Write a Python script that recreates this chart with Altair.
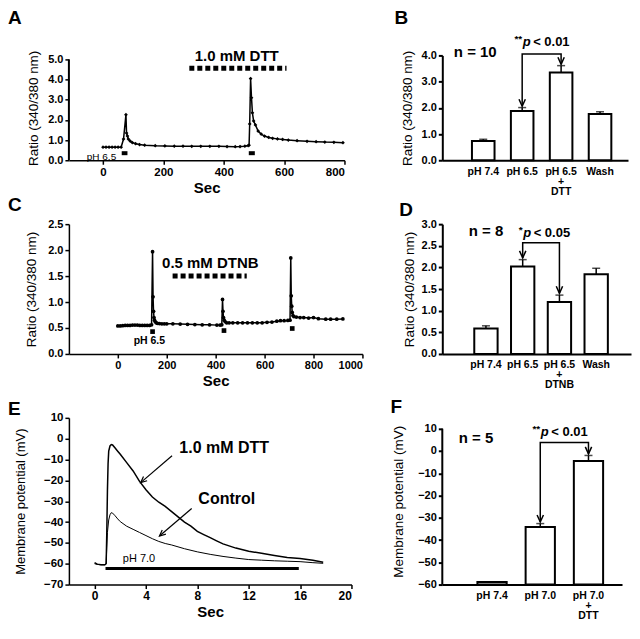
import altair as alt
import pandas as pd

FONT = "Liberation Sans"
K = "black"
ARROW = "M-0.45,-1L0,0L0.45,-1"

# ---------------- Panel A data ----------------
a_t = [0, 10, 20, 30, 40, 50, 60, 68, 76, 78, 81, 84, 90, 97, 108, 121, 138,
       173, 205, 236, 265, 294, 324, 354, 384, 411, 438, 454, 470,
       481, 484, 486, 489, 492, 495, 499, 505, 514, 524, 535, 549, 562, 578, 595,
       614, 643, 676, 706, 735, 765, 795]
a_v = [0.65, 0.65, 0.65, 0.65, 0.65, 0.65, 0.65, 1.05, 2.26, 1.35, 1.2, 1.05, 0.95, 0.88, 0.82, 0.78, 0.75,
       0.72, 0.71, 0.70, 0.70, 0.69, 0.69, 0.69, 0.69, 0.68, 0.67, 0.68, 0.70,
       0.73, 0.75, 1.8, 4.05, 3.1, 2.35, 1.95, 1.75, 1.45, 1.3, 1.2, 1.13, 1.09, 1.06, 1.03,
       1.0, 0.97, 0.94, 0.92, 0.9, 0.89, 0.87]
a_drug = {"x0": [286], "x1": [608], "y": [4.56]}
a_stim = {"x0": [62, 483], "x1": [81, 503], "y": [0.35, 0.35]}

# ---------------- Panel B data ----------------
b_cats = ["pH 7.4", "pH 6.5", "pH 6.5\n+\nDTT", "Wash"]
b_mean = [0.73, 1.88, 3.35, 1.76]
b_hi = [0.80, 2.01, 3.61, 1.85]
b_br_c = ["pH 6.5", "pH 6.5", "pH 6.5\n+\nDTT", "pH 6.5\n+\nDTT"]
b_br_y = [2.06, 4.05, 4.05, 3.66]

# ---------------- Panel C data ----------------
c_t = [0, 10, 20, 30, 40, 50, 60, 70, 80, 90, 100, 110, 120, 130,
       138, 142, 144, 146, 148, 150, 153, 157, 162, 170, 180, 190, 200,
       225, 255, 285, 315, 345, 375, 405, 418, 425,
       428, 430, 432, 435, 439, 445, 455, 470, 490, 510, 530, 550, 570, 590, 610, 630, 650, 665, 680, 695, 704,
       707, 709, 711, 713, 716, 720, 730, 745, 760, 780, 800, 820, 850, 870, 895, 920]
c_v = [0.54, 0.54, 0.545, 0.55, 0.55, 0.55, 0.555, 0.555, 0.555, 0.55, 0.55, 0.55, 0.55, 0.55,
       0.56, 1.97, 1.1, 0.82, 0.7, 0.65, 0.62, 0.6, 0.59, 0.585, 0.58, 0.58, 0.58,
       0.58, 0.575, 0.57, 0.565, 0.56, 0.56, 0.555, 0.555, 0.56,
       1.05, 0.82, 0.7, 0.65, 0.62, 0.6, 0.6, 0.6, 0.6, 0.6, 0.6, 0.6, 0.6, 0.6, 0.61, 0.615, 0.63, 0.64, 0.64, 0.645, 0.65,
       1.85, 1.12, 0.92, 0.8, 0.74, 0.72, 0.71, 0.7, 0.7, 0.69, 0.7, 0.68, 0.67, 0.67, 0.67, 0.675]
c_drug = {"x0": [224], "x1": [527], "y": [1.5]}
c_stim_t = [142, 434, 713]
c_stim_v = [0.43, 0.45, 0.49]

# ---------------- Panel D data ----------------
d_cats = ["pH 7.4", "pH 6.5", "pH 6.5\n+\nDTNB", "Wash"]
d_mean = [0.59, 2.02, 1.2, 1.84]
d_hi = [0.65, 2.18, 1.36, 1.98]
d_br_c = ["pH 6.5", "pH 6.5", "pH 6.5\n+\nDTNB", "pH 6.5\n+\nDTNB"]
d_br_y = [2.22, 2.57, 2.57, 1.4]

# ---------------- Panel E data ----------------
e_t_dtt = [0, 0.2, 0.5, 0.8, 0.9, 0.95, 1.0, 1.05, 1.1, 1.2, 1.3, 1.4, 1.6, 1.8, 2.0,
           2.5, 3.0, 3.5, 4.0, 4.5, 5.0, 5.5, 6.0, 6.5, 7.0, 7.5, 8.0, 8.5, 9.0, 9.5, 10,
           11, 12, 13, 14, 15, 16, 17, 17.8]
e_v_dtt = [-59.5, -60.2, -60.5, -60.5, -60, -45, -25, -12, -6, -3.5, -2.8, -3, -4.5, -6, -7.5,
           -11.5, -15.5, -20.5, -24.5, -28, -30.5, -32.5, -35, -37.5, -40, -42, -44.5, -46, -47.5, -49, -50.5,
           -52.5, -54, -55, -56, -57, -57.5, -58.3, -59.3]
e_t_ctl = [0, 0.2, 0.5, 0.8, 0.9, 0.95, 1.0, 1.1, 1.2, 1.3, 1.4, 1.6, 1.8, 2.0,
           2.5, 3.0, 3.5, 4.0, 4.5, 5.0, 5.5, 6.0, 7, 8, 9, 10, 11, 12, 13, 14, 15, 16, 17, 17.8]
e_v_ctl = [-60, -60.3, -60.5, -60.5, -60, -52, -45, -39, -36.5, -35.5, -35.7, -37, -38.5, -39.8,
           -42, -43.5, -45, -46.5, -48, -49.3, -50.3, -51, -52.8, -54.3, -55.5, -56.5, -57.3, -58, -58.3, -58.6,
           -58.8, -59, -59.5, -59.8]
e_arrows = {"x0": [6.03, 7.56], "y0": [-8.2, -33.5], "x1": [3.59, 5.05], "y1": [-21.1, -46.7]}
e_stim = {"x0": [0.85], "x1": [15.9], "y": [-62.3]}

# ---------------- Panel F data ----------------
f_cats = ["pH 7.4", "pH 7.0", "pH 7.0\n+\nDTT"]
f_mean = [-58.8, -34.1, -4.5]
f_hi = [-58.8, -32.6, -2.0]
f_base = [-60, -60, -60]
f_br_c = ["pH 7.0", "pH 7.0", "pH 7.0\n+\nDTT", "pH 7.0\n+\nDTT"]
f_br_y = [-31.9, 3.8, 3.8, -1.3]


def panel_title(letter, dx, offset):
    return alt.TitleParams(letter, anchor="start", frame="group", dx=dx, offset=offset,
                           fontSize=19, font=FONT, fontWeight="bold", color=K, baseline="bottom")


def make_enc(kind, scale, axis):
    """Return a function building the same positional channel (same scale/axis) for any field."""
    def enc(field, typ="Q"):
        cls = alt.X if kind == "x" else alt.Y
        return cls(f"{field}:{typ}", scale=scale, axis=axis)
    return enc


def text_layer(X, Y, x, y, s, size, weight="bold", style="normal", align="center",
               xtype="Q", dx=0, dy=0):
    df = pd.DataFrame({"x": x, "y": y, "s": s})
    return alt.Chart(df).mark_text(font=FONT, fontSize=size, fontWeight=weight, fontStyle=style,
                                   align=align, baseline="middle", color=K, dx=dx, dy=dy).encode(
        x=X("x", xtype), y=Y("y"), text="s:N")


def yaxis_rule(Y, lo, hi):
    return alt.Chart(pd.DataFrame({"lo": [lo], "hi": [hi]})).mark_rule(color=K, strokeWidth=2).encode(
        x=alt.value(0), y=Y("lo"), y2="hi:Q")


def y_axis(values, fmt, title, tsize, lsize, tpad, domain=True, width=1.5):
    return alt.Axis(values=values, format=fmt, title=title, titleFontSize=tsize, titleFontWeight="normal",
                    labelFontSize=lsize, titlePadding=tpad, domain=domain, domainWidth=width,
                    tickWidth=width, labelOverlap=False, tickCount=len(values))


def bar_panel(cats, mean, hi, base, br_c, br_y, ydom, yvals, yfmt, ytitle, scale_opts,
              n_text, n_y, n_dx, stars, p_text, p_y, p_cat, title, width, height, tpad, ydomain_line=True):
    dfb = pd.DataFrame({"c": cats, "m": mean, "hi": hi, "b": base})
    X = make_enc("x", alt.Scale(domain=cats, **scale_opts),
                 alt.Axis(title=None, ticks=False, labelAngle=0,
                          labelExpr="split(datum.label, '\\n')", labelFontSize=10.5,
                          labelPadding=6, labelLineHeight=10, domainWidth=2))
    Y = make_enc("y", alt.Scale(domain=ydom, nice=False, zero=False),
                 y_axis(yvals, yfmt, ytitle, 13.5, 11, tpad, domain=ydomain_line, width=2))
    bars = alt.Chart(dfb).mark_bar(fill="white", stroke=K, strokeWidth=2).encode(
        x=X("c", "N"), y=Y("m"), y2="b:Q")
    err = alt.Chart(dfb).mark_rule(color=K, strokeWidth=1.5).encode(x=X("c", "N"), y=Y("m"), y2="hi:Q")
    cap = alt.Chart(dfb).mark_tick(color=K, thickness=1.5, size=8).encode(x=X("c", "N"), y=Y("hi"))
    dfl = pd.DataFrame({"c": br_c, "y": br_y, "o": [0, 1, 2, 3]})
    brk = alt.Chart(dfl).mark_line(color=K, strokeWidth=1.5).encode(x=X("c", "N"), y=Y("y"), order="o:Q")
    dfa = pd.DataFrame({"c": [br_c[0], br_c[3]], "y": [br_y[0], br_y[3]]})
    heads = alt.Chart(dfa).mark_point(shape=ARROW, size=200, filled=False, color=K,
                                      strokeWidth=1.5, opacity=1).encode(x=X("c", "N"), y=Y("y"))
    ntxt = text_layer(X, Y, [cats[0]], [n_y], [n_text], 15, xtype="N", dx=n_dx)
    st = text_layer(X, Y, [p_cat], [p_y], [stars], 10, align="right", xtype="N", dx=0, dy=-3)
    pp = text_layer(X, Y, [p_cat], [p_y], ["p"], 13, style="italic", align="left", xtype="N", dx=0.5)
    pr = text_layer(X, Y, [p_cat], [p_y], [p_text], 13, align="left", xtype="N", dx=11)
    layers = [bars, err, cap, brk, heads, ntxt, st, pp, pr]
    if not ydomain_line:
        layers.append(yaxis_rule(Y, yvals[0], yvals[-1]))
    return alt.layer(*layers).properties(width=width, height=height, title=title)


# ---------------- Panel A ----------------
dfA = pd.DataFrame({"t": a_t, "v": a_v})
XA = make_enc("x", alt.Scale(domain=[-113, 800], nice=False, zero=False),
              alt.Axis(values=[0, 200, 400, 600, 800], format="d", title="Sec", titleFontSize=15,
                       labelFontSize=11.5, titlePadding=3, labelOverlap=False))
YA = make_enc("y", alt.Scale(domain=[0, 5.2], nice=False),
              y_axis([0, 1, 2, 3, 4, 5], ".1f", "Ratio (340/380  nm)", 13.5, 11, 7, domain=False))
panelA = alt.layer(
    alt.Chart(dfA).mark_line(color=K, strokeWidth=1.5).encode(x=XA("t"), y=YA("v")),
    alt.Chart(dfA).mark_point(shape="diamond", filled=True, size=14, color=K, opacity=1).encode(
        x=XA("t"), y=YA("v")),
    yaxis_rule(YA, 0, 5),
    alt.Chart(pd.DataFrame(a_drug)).mark_rule(color=K, strokeWidth=5, strokeDash=[5, 3]).encode(
        x=XA("x0"), x2="x1:Q", y=YA("y")),
    alt.Chart(pd.DataFrame(a_stim)).mark_rule(color=K, strokeWidth=4).encode(x=XA("x0"), x2="x1:Q", y=YA("y")),
    text_layer(XA, YA, [443], [5.15], ["1.0 mM DTT"], 15),
    text_layer(XA, YA, [-5], [0.16], ["pH 6.5"], 10, weight="normal"),
).properties(width=276, height=105, title=panel_title("A", -61, 1))

# ---------------- Panel B ----------------
panelB = bar_panel(b_cats, b_mean, b_hi, [0, 0, 0, 0], b_br_c, b_br_y, [0, 4], [0, 1, 2, 3, 4], ".1f",
                   "Ratio (340/380  nm)", dict(paddingInner=0.42, paddingOuter=0.595, align=0.64),
                   "n = 10", 4.12, -8, "**", "< 0.01", 4.5, "pH 6.5",
                   panel_title("B", -48, -13), 186, 105, 7)

# ---------------- Panel C ----------------
dfC = pd.DataFrame({"t": c_t, "v": c_v})
XC = make_enc("x", alt.Scale(domain=[-200, 1000], nice=False, zero=False),
              alt.Axis(values=[0, 200, 400, 600, 800, 1000], format="d", title="Sec", titleFontSize=15,
                       labelFontSize=11, titlePadding=3, labelOverlap=False))
YC = make_enc("y", alt.Scale(domain=[0, 2.5], nice=False),
              y_axis([0, 0.5, 1, 1.5, 2, 2.5], ".1f", "Ratio (340/380  nm)", 13.5, 11, 9))
panelC = alt.layer(
    alt.Chart(dfC).mark_line(color=K, strokeWidth=1.5).encode(x=XC("t"), y=YC("v")),
    alt.Chart(dfC).mark_point(shape="circle", filled=True, size=14, color=K, opacity=1).encode(
        x=XC("t"), y=YC("v")),
    alt.Chart(pd.DataFrame(c_drug)).mark_rule(color=K, strokeWidth=5, strokeDash=[5, 3]).encode(
        x=XC("x0"), x2="x1:Q", y=YC("y")),
    alt.Chart(pd.DataFrame({"t": c_stim_t, "v": c_stim_v})).mark_square(color=K, size=22, opacity=1).encode(
        x=XC("t"), y=YC("v")),
    text_layer(XC, YC, [378], [1.75], ["0.5 mM DTNB"], 15),
    text_layer(XC, YC, [129], [0.24], ["pH 6.5"], 10.5),
).properties(width=294, height=130, title=panel_title("C", -61, -16))

# ---------------- Panel D ----------------
panelD = bar_panel(d_cats, d_mean, d_hi, [0, 0, 0, 0], d_br_c, d_br_y, [0, 3], [0, 0.5, 1, 1.5, 2, 2.5, 3], ".1f",
                   "Ratio (340/380  nm)", dict(paddingInner=0.365, paddingOuter=0.75, align=0.58),
                   "n = 8", 2.85, 0, "*", "< 0.05", 2.79, "pH 6.5",
                   panel_title("D", -43, -21), 189, 130, 5)

# ---------------- Panel E ----------------
dfE = pd.concat([
    pd.DataFrame({"t": e_t_dtt, "v": e_v_dtt, "s": "DTT"}),
    pd.DataFrame({"t": e_t_ctl, "v": e_v_ctl, "s": "Control"}),
])
XE = make_enc("x", alt.Scale(domain=[-2, 20], nice=False, zero=False),
              alt.Axis(values=[0, 4, 8, 12, 16, 20], title="Sec", titleFontSize=15,
                       labelFontSize=12, titlePadding=3, labelOverlap=False))
YE = make_enc("y", alt.Scale(domain=[-70, 10], nice=False, zero=False),
              y_axis(list(range(-70, 11, 10)), "d", "Membrane potential (mV)", 13, 11.5, 16))
dfEa = pd.DataFrame(e_arrows)
panelE = alt.layer(
    alt.Chart(dfE).mark_line(color=K).encode(
        x=XE("t"), y=YE("v"), detail="s:N",
        strokeWidth=alt.StrokeWidth("s:N", scale=alt.Scale(domain=["DTT", "Control"], range=[1.5, 1.0]),
                                    legend=None)),
    alt.Chart(pd.DataFrame(e_stim)).mark_rule(color=K, strokeWidth=3).encode(x=XE("x0"), x2="x1:Q", y=YE("y")),
    alt.Chart(dfEa).mark_rule(color=K, strokeWidth=1.2).encode(x=XE("x0"), y=YE("y0"), x2="x1:Q", y2="y1:Q"),
    alt.Chart(dfEa).mark_point(shape=ARROW, size=150, angle=49, filled=False, color=K, strokeWidth=1.2,
                               opacity=1).encode(x=XE("x1"), y=YE("y1")),
    text_layer(XE, YE, [6.6], [-4.3], ["1.0 mM DTT"], 16, align="left"),
    text_layer(XE, YE, [8.08], [-28.9], ["Control"], 16, align="left"),
    text_layer(XE, YE, [3.46], [-57.9], ["pH 7.0"], 11, weight="normal"),
).properties(width=283, height=167, title=panel_title("E", -61, -26))

# ---------------- Panel F ----------------
panelF = bar_panel(f_cats, f_mean, f_hi, f_base, f_br_c, f_br_y, [-60, 14.9], list(range(-60, 11, 10)), "d",
                   "Membrane potential (mV)", dict(paddingInner=0.393, paddingOuter=0.56, align=0.65),
                   "n = 5", 6.0, -16, "**", "< 0.01", 8.6, "pH 7.0",
                   panel_title("F", -52, -18), 180, 167, 12, ydomain_line=False)

chart = alt.concat(panelA, panelB, panelC, panelD, panelE, panelF, columns=2,
                   spacing=alt.RowColnumber(row=64, column=80), bounds="flush").properties(
    padding={"left": 0, "top": 0, "right": 1, "bottom": 1}
).configure_view(stroke=None).configure_axis(
    grid=False, domainColor=K, tickColor=K, labelColor=K, titleColor=K,
    labelFont=FONT, titleFont=FONT, labelFontWeight="bold", titleFontWeight="bold",
    domainWidth=1.5, tickWidth=1.5, tickSize=4, labelOverlap=False
).configure_title(font=FONT, color=K)

chart.save("out.html", embed_options={"renderer": "svg", "actions": False})
